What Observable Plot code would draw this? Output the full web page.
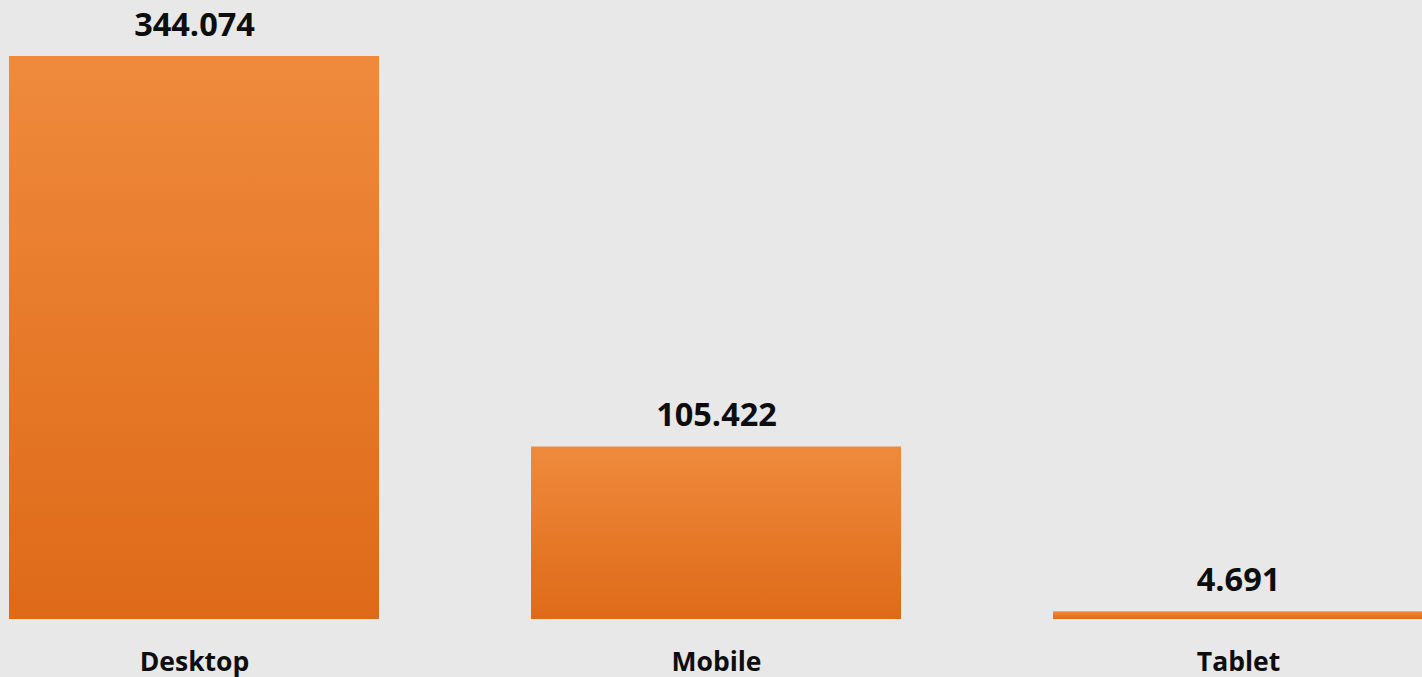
<!DOCTYPE html>
<html>
<head>
<meta charset="utf-8">
<script src="https://cdn.jsdelivr.net/npm/d3@7"></script>
<script src="https://cdn.jsdelivr.net/npm/@observablehq/plot@0.6"></script>
<style>
  html, body { margin: 0; padding: 0; background: #e8e8e8; overflow: hidden; }
  #chart svg { display: block; }
</style>
</head>
<body>
<div id="chart"></div>
<script>
const categories = ["Desktop", "Mobile", "Tablet"];
const values = [344.074, 105.422, 4.691];
const valueLabels = ["344.074", "105.422", "4.691"];

const data = categories.map((c, i) => ({category: c, value: values[i], label: valueLabels[i]}));

const W = 1422, H = 677;

const chart = Plot.plot({
  width: W,
  height: H,
  marginTop: 56,
  marginBottom: 58,
  marginLeft: 0,
  marginRight: 0,
  style: {background: "#e8e8e8", fontFamily: "'Open Sans', sans-serif", overflow: "visible"},
  x: {domain: categories, range: [8, 1425], paddingInner: 0.2906, paddingOuter: 0, axis: null},
  y: {domain: [0, 344.074], axis: null},
  marks: [
    () => {
      const svg = d3.create("svg:defs");
      const g = svg.append("linearGradient").attr("id", "barGrad").attr("x1", 0).attr("y1", 0).attr("x2", 0).attr("y2", 1);
      g.append("stop").attr("offset", "0%").attr("stop-color", "#ef8a3c");
      g.append("stop").attr("offset", "100%").attr("stop-color", "#de6a18");
      return svg.node();
    },
    Plot.barY(data, {x: "category", y: "value", fill: "url(#barGrad)"}),
    Plot.text(data, {x: "category", y: "value", text: "label", lineAnchor: "bottom", dy: -21,
      fontSize: 32.5, fontWeight: "bold", fill: "#0d0d0d"}),
    Plot.text(data, {x: "category", y: d => 0, text: "category", lineAnchor: "bottom", dy: 51,
      fontSize: 26.5, fontWeight: "bold", fill: "#0d0d0d"})
  ]
});
document.getElementById("chart").appendChild(chart);
</script>
</body>
</html>
